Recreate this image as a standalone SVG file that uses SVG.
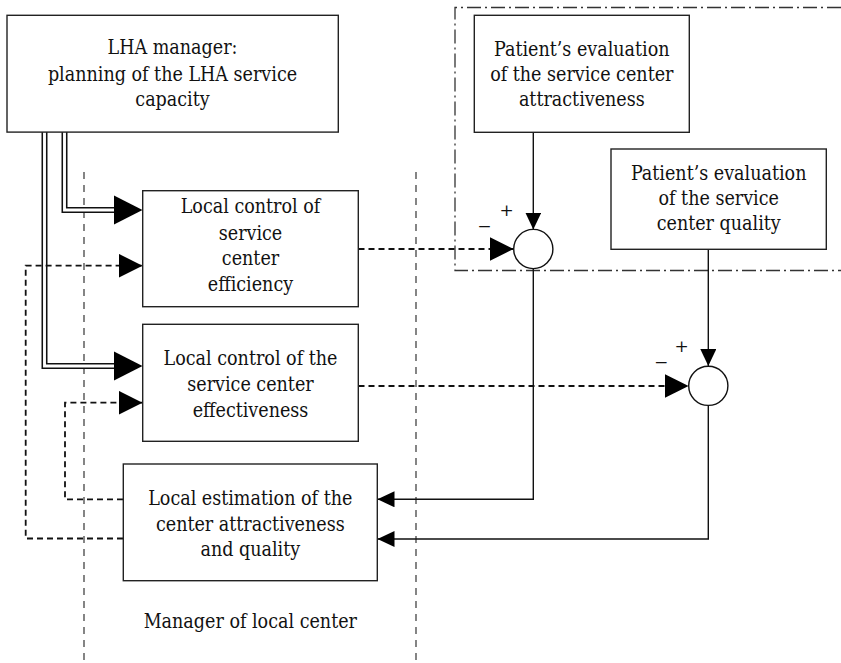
<svg xmlns="http://www.w3.org/2000/svg" width="841" height="663" viewBox="0 0 841 663">
  <style>
    .box { fill: #fff; stroke: #222; stroke-width: 1.4; }
    .lbl { font-family: 'DejaVu Serif', serif; font-stretch: condensed; font-size: 19.5px; fill: #111; text-anchor: middle; }
    .sign { font-family: 'DejaVu Serif', serif; font-size: 17px; fill: #111; text-anchor: middle; }
    .solid { fill: none; stroke: #111; stroke-width: 1.4; }
    .dash { fill: none; stroke: #111; stroke-width: 1.8; stroke-dasharray: 6 4; }
    .divider { fill: none; stroke: #444; stroke-width: 1.3; stroke-dasharray: 7 6; }
    .border { fill: none; stroke: #333; stroke-width: 1.3; stroke-dasharray: 14 4 2 4; }
    .dbl-out { fill: none; stroke: #111; stroke-width: 6; stroke-linejoin: miter; }
    .dbl-in { fill: none; stroke: #fff; stroke-width: 2.9; stroke-linejoin: miter; }
    .sum { fill: #fff; stroke: #111; stroke-width: 1.4; }
    .head { fill: #000; }
  </style>
  <defs>
    <marker id="arrMed" viewBox="0 0 24 24" refX="24" refY="12" markerWidth="24" markerHeight="24" orient="auto" markerUnits="userSpaceOnUse">
      <path d="M0,0 L24,12 L0,24 Z" fill="#000"/>
    </marker>
    <marker id="arrSmall" viewBox="0 0 17 16" refX="17" refY="8" markerWidth="17" markerHeight="16" orient="auto" markerUnits="userSpaceOnUse">
      <path d="M0,0 L17,8 L0,16 Z" fill="#000"/>
    </marker>
  </defs>

  <!-- column dividers and the patient-side frame -->
  <g id="frames">
    <path class="divider" d="M84,172 V663"/>
    <path class="divider" d="M416,172 V663"/>
    <path class="border" d="M841,7.5 H455 V270.5 H841"/>
  </g>

  <g id="connectors">
    <!-- double planning links from the LHA manager -->
    <path class="dbl-out" d="M44.5,132 V366 H115"/>
    <path class="dbl-in" d="M44.5,131 V366 H116"/>
    <path class="dbl-out" d="M64.5,132 V210 H115"/>
    <path class="dbl-in" d="M64.5,131 V210 H116"/>
    <polygon class="head" points="114,195.5 142.5,210 114,224.5"/>
    <polygon class="head" points="114,351.5 142.5,366 114,380.5"/>

    <!-- feedback from local estimation to the local controls -->
    <path class="dash" d="M123,538.5 H25.7 V265.7 H142.5" marker-end="url(#arrMed)"/>
    <path class="dash" d="M123,499.3 H65 V402.7 H142.5" marker-end="url(#arrMed)"/>

    <!-- controls to comparators -->
    <path class="dash" d="M358.5,249 H513.6" marker-end="url(#arrMed)"/>
    <path class="dash" d="M358.5,386 H688.6" marker-end="url(#arrMed)"/>

    <!-- patient evaluations into comparators -->
    <path class="solid" d="M533.3,132.5 V229.5" marker-end="url(#arrSmall)"/>
    <path class="solid" d="M708.3,249.5 V366" marker-end="url(#arrSmall)"/>

    <!-- comparator outputs to local estimation -->
    <path class="solid" d="M533.3,268.5 V499.3 H377.5" marker-end="url(#arrSmall)"/>
    <path class="solid" d="M708.3,405.5 V539 H377.5" marker-end="url(#arrSmall)"/>
  </g>

  <g id="lha-manager">
    <rect class="box" x="7" y="15.3" width="331.3" height="116.8"/>
    <text class="lbl" x="172.5" y="54.3">LHA manager:</text>
    <text class="lbl" x="172.5" y="80.5">planning of the LHA service</text>
    <text class="lbl" x="172.5" y="106">capacity</text>
  </g>

  <g id="control-efficiency">
    <rect class="box" x="142.7" y="190.7" width="215.6" height="116"/>
    <text class="lbl" x="250.5" y="213.3">Local control of</text>
    <text class="lbl" x="250.5" y="239.5">service</text>
    <text class="lbl" x="250.5" y="265">center</text>
    <text class="lbl" x="250.5" y="290.5">efficiency</text>
  </g>

  <g id="control-effectiveness">
    <rect class="box" x="142.7" y="324.3" width="215.6" height="117"/>
    <text class="lbl" x="250.5" y="365">Local control of the</text>
    <text class="lbl" x="250.5" y="391">service center</text>
    <text class="lbl" x="250.5" y="416.7">effectiveness</text>
  </g>

  <g id="local-estimation">
    <rect class="box" x="123.3" y="464" width="254" height="116.7"/>
    <text class="lbl" x="250.3" y="505">Local estimation of the</text>
    <text class="lbl" x="250.3" y="530.7">center attractiveness</text>
    <text class="lbl" x="250.3" y="556">and quality</text>
  </g>

  <g id="manager-caption">
    <text class="lbl" x="250.3" y="628.3">Manager of local center</text>
  </g>

  <g id="eval-attractiveness">
    <rect class="box" x="474.3" y="15.3" width="215" height="117"/>
    <text class="lbl" x="581.8" y="56">Patient’s evaluation</text>
    <text class="lbl" x="581.8" y="81">of the service center</text>
    <text class="lbl" x="581.8" y="106">attractiveness</text>
  </g>

  <g id="eval-quality">
    <rect class="box" x="611" y="149" width="215.3" height="100.3"/>
    <text class="lbl" x="718.7" y="180">Patient’s evaluation</text>
    <text class="lbl" x="718.7" y="204.5">of the service</text>
    <text class="lbl" x="718.7" y="230">center quality</text>
  </g>

  <g id="comparator-attractiveness">
    <circle class="sum" cx="533.3" cy="249" r="19.6"/>
    <text class="sign" x="506.7" y="216">+</text>
    <text class="sign" x="484.3" y="231.8">−</text>
  </g>

  <g id="comparator-quality">
    <circle class="sum" cx="708.3" cy="385.8" r="19.6"/>
    <text class="sign" x="681.7" y="351.7">+</text>
    <text class="sign" x="661" y="367.8">−</text>
  </g>
</svg>
